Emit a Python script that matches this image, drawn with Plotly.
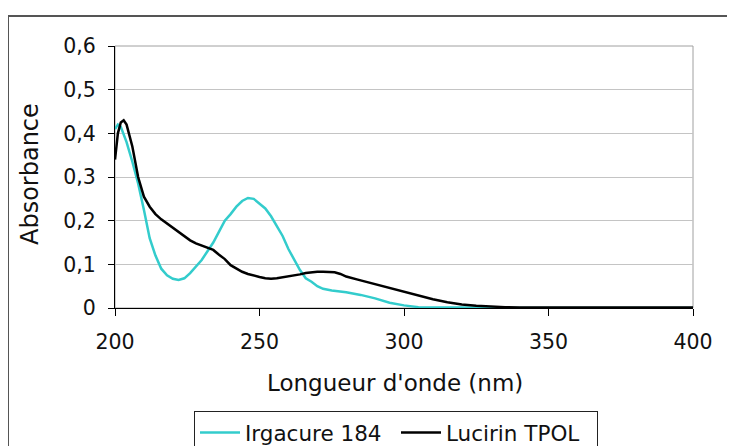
import plotly.graph_objects as go

# Irgacure 184
irg_wl = [200, 201, 202, 204, 206, 208, 210, 212, 214, 216, 218, 220, 222, 224, 226, 228, 230, 232, 234,
          236, 238, 240, 242, 244, 246, 248, 250, 252, 254, 256, 258, 260, 262, 264, 266, 268, 270, 272,
          275, 280, 285, 290, 295, 300, 305, 310, 320, 330, 340, 350, 360, 370, 380, 390, 400]
irg_abs = [0.41, 0.42, 0.415, 0.38, 0.335, 0.285, 0.225, 0.16, 0.12, 0.09, 0.075, 0.067, 0.064, 0.068,
           0.08, 0.095, 0.11, 0.13, 0.15, 0.175, 0.2, 0.215, 0.232, 0.245, 0.252, 0.25, 0.24, 0.228, 0.21,
           0.188, 0.165, 0.135, 0.11, 0.087, 0.068, 0.06, 0.05, 0.044, 0.04, 0.036, 0.03, 0.022, 0.012,
           0.006, 0.002, 0.001, 0.001, 0.0, 0.0, 0.0, 0.0, 0.0, 0.0, 0.0, 0.0]

# Lucirin TPOL
luc_wl = [200, 201, 202, 203, 204, 206, 208, 210, 212, 214, 216, 218, 220, 222, 224, 226, 228, 230, 232,
          234, 236, 238, 240, 242, 244, 246, 248, 250, 252, 254, 256, 258, 260, 262, 264, 266, 268, 270,
          272, 274, 276, 278, 280, 284, 288, 292, 296, 300, 305, 310, 315, 320, 325, 330, 335, 340, 360,
          380, 400]
luc_abs = [0.34, 0.40, 0.425, 0.43, 0.42, 0.37, 0.30, 0.255, 0.232, 0.215, 0.203, 0.193, 0.183, 0.174,
           0.165, 0.155, 0.148, 0.143, 0.139, 0.133, 0.122, 0.112, 0.098, 0.09, 0.083, 0.078, 0.074, 0.071,
           0.068, 0.067, 0.068, 0.07, 0.072, 0.074, 0.077, 0.08, 0.082, 0.083, 0.083, 0.083, 0.082, 0.078,
           0.072, 0.065, 0.058, 0.051, 0.045, 0.037, 0.028, 0.02, 0.013, 0.008, 0.005, 0.003, 0.002, 0.001,
           0.001, 0.001, 0.001]

y_tickvals = [0, 0.1, 0.2, 0.3, 0.4, 0.5, 0.6]
y_ticktext = ["0", "0,1", "0,2", "0,3", "0,4", "0,5", "0,6"]
x_tickvals = [200, 250, 300, 350, 400]

FONT = "DejaVu Sans"

fig = go.Figure()
fig.add_trace(go.Scatter(x=irg_wl, y=irg_abs, mode="lines", name="Irgacure 184",
                         line=dict(color="#33CCCC", width=2.5)))
fig.add_trace(go.Scatter(x=luc_wl, y=luc_abs, mode="lines", name="Lucirin TPOL",
                         line=dict(color="#000000", width=2.5)))

W, H = 735, 446
OFF = 8  # page body margin offset
L, R, T, B = 115, 693, 46, 308
pw, ph = R - L, B - T

def px(xp):
    return (xp - L) / pw

def py(yp):
    return (B - yp) / ph

fig.update_layout(
    width=W, height=H,
    margin=dict(l=L - OFF, r=W - R + OFF, t=T - OFF, b=H - B + OFF, autoexpand=False),
    paper_bgcolor="white", plot_bgcolor="white",
    font=dict(family=FONT, size=20.5, color="#111111"),
    showlegend=True,
    legend=dict(orientation="h", x=px(194), y=py(411), xanchor="left", yanchor="top",
                bordercolor="#222222", borderwidth=1, font=dict(size=21.5, color="#111111"),
                itemwidth=40, tracegroupgap=0, entrywidth=146, entrywidthmode="pixels"),
    shapes=[
        dict(type="rect", xref="paper", yref="paper", x0=px(8), x1=px(760), y0=py(16), y1=py(470),
             line=dict(color="#555555", width=2), layer="below"),
        dict(type="rect", xref="paper", yref="paper", x0=0, x1=1, y0=0, y1=1,
             line=dict(color="#a0a0a0", width=1), layer="below"),
    ],
    annotations=[
        dict(text="Longueur d'onde (nm)", xref="paper", yref="paper", x=px(395), y=py(383),
             xanchor="center", yanchor="middle", showarrow=False, font=dict(size=23)),
        dict(text="Absorbance", xref="paper", yref="paper", x=px(30), y=py(174),
             xanchor="center", yanchor="middle", showarrow=False, textangle=-90, font=dict(size=24)),
    ],
)
fig.update_xaxes(range=[200, 400], tickvals=x_tickvals, showgrid=False, zeroline=False,
                 showline=True, linecolor="black", linewidth=1, ticks="outside", ticklen=7,
                 tickcolor="black", ticklabelstandoff=8, fixedrange=True)
fig.update_yaxes(range=[0, 0.6], tickvals=y_tickvals, ticktext=y_ticktext, showgrid=True,
                 gridcolor="#c4c4c4", gridwidth=1, zeroline=False, showline=True, linecolor="black",
                 linewidth=1, ticks="outside", ticklen=6, tickcolor="black", ticklabelstandoff=8,
                 fixedrange=True)

fig.write_html("out.html")
